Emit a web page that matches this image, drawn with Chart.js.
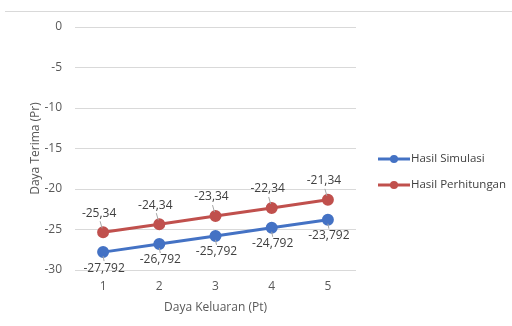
<!DOCTYPE html>
<html>
<head>
<meta charset="utf-8">
<script src="https://cdn.jsdelivr.net/npm/chart.js@4/dist/chart.umd.min.js"></script>
<style>
  html, body { margin: 0; padding: 0; background: #ffffff; }
  #wrap { width: 512px; height: 326px; position: relative; }
</style>
</head>
<body>
<div id="wrap"><canvas id="chart" width="512" height="326"></canvas></div>
<script>
// Output power levels (Pt) on the x axis
const categories = ['1', '2', '3', '4', '5'];
// Received power (Pr) from simulation
const hasilSimulasi = [-27.792, -26.792, -25.792, -24.792, -23.792];
// Received power (Pr) from calculation
const hasilPerhitungan = [-25.34, -24.34, -23.34, -22.34, -21.34];
// Y axis tick range
const yTicks = [0, -5, -10, -15, -20, -25, -30];

const BLUE = '#4472C4';
const RED = '#C0504D';
const FONT = "'Open Sans', 'DejaVu Sans', sans-serif";
const TEXT = '#595959';

const fmt = v => String(v).replace('.', ',');

// Value labels with short leader lines (above for red, below for blue)
const valueLabels = {
  id: 'valueLabels',
  afterDatasetsDraw(chart) {
    const ctx = chart.ctx;
    ctx.save();
    ctx.font = '12px ' + FONT;
    ctx.fillStyle = '#404040';
    ctx.textAlign = 'center';
    ctx.textBaseline = 'middle';
    chart.data.datasets.forEach((ds, di) => {
      const meta = chart.getDatasetMeta(di);
      const above = ds.labelSide === 'above';
      meta.data.forEach((pt, i) => {
        const lx = pt.x + (above ? -4 : 1);
        const ly = pt.y + (above ? -19 : 16);
        ctx.strokeStyle = '#a6a6a6';
        ctx.lineWidth = 1;
        ctx.beginPath();
        if (above) {
          ctx.moveTo(lx + 1, ly + 8);
          ctx.lineTo(pt.x - 1, pt.y - 4);
        } else {
          ctx.moveTo(pt.x, pt.y + 4);
          ctx.lineTo(lx, ly - 7);
        }
        ctx.stroke();
        ctx.fillText(fmt(ds.data[i]), lx, ly);
      });
    });
    ctx.restore();
  }
};

// Legend on the right and thin top rule
const sideLegend = {
  id: 'sideLegend',
  afterDraw(chart) {
    const ctx = chart.ctx;
    const x0 = chart.chartArea.right + 22;
    ctx.save();
    ctx.strokeStyle = '#d9d9d9';
    ctx.lineWidth = 1;
    ctx.beginPath();
    ctx.moveTo(5, 11.5);
    ctx.lineTo(512, 11.5);
    ctx.stroke();
    ctx.font = '11.5px ' + FONT;
    ctx.textBaseline = 'middle';
    ctx.textAlign = 'left';
    chart.data.datasets.forEach((ds, i) => {
      const y = 159 + i * 26;
      ctx.strokeStyle = ds.borderColor;
      ctx.lineWidth = 3;
      ctx.beginPath();
      ctx.moveTo(x0, y);
      ctx.lineTo(x0 + 32, y);
      ctx.stroke();
      ctx.fillStyle = ds.borderColor;
      ctx.beginPath();
      ctx.arc(x0 + 16, y, 4, 0, Math.PI * 2);
      ctx.fill();
      ctx.fillStyle = '#404040';
      ctx.fillText(ds.label, x0 + 33, y);
    });
    ctx.restore();
  }
};

new Chart(document.getElementById('chart'), {
  type: 'line',
  data: {
    labels: categories,
    datasets: [
      {
        label: 'Hasil Simulasi',
        data: hasilSimulasi,
        borderColor: BLUE,
        backgroundColor: BLUE,
        borderWidth: 3,
        pointRadius: 4.5,
        pointHoverRadius: 4.5,
        labelSide: 'below'
      },
      {
        label: 'Hasil Perhitungan',
        data: hasilPerhitungan,
        borderColor: RED,
        backgroundColor: RED,
        borderWidth: 3,
        pointRadius: 4.5,
        pointHoverRadius: 4.5,
        labelSide: 'above'
      }
    ]
  },
  options: {
    responsive: false,
    animation: false,
    layout: { padding: { left: 28, right: 156, top: 27, bottom: 11 } },
    plugins: {
      legend: { display: false },
      tooltip: { enabled: false }
    },
    scales: {
      x: {
        offset: true,
        grid: { display: false, drawTicks: false },
        border: { display: false },
        ticks: { color: TEXT, font: { family: FONT, size: 12 }, padding: 9 },
        title: {
          display: true,
          text: 'Daya Keluaran (Pt)',
          color: TEXT,
          font: { family: FONT, size: 12 },
          padding: { top: 4, bottom: 0 }
        },
        afterFit(s) { s.height = 45; }
      },
      y: {
        min: -30,
        max: 0,
        afterBuildTicks(s) { s.ticks = yTicks.map(v => ({ value: v })); },
        grid: { color: '#d9d9d9', drawTicks: false },
        border: { display: false },
        ticks: { color: TEXT, font: { family: FONT, size: 12 }, padding: 13 },
        title: {
          display: true,
          text: 'Daya Terima (Pr)',
          color: TEXT,
          font: { family: FONT, size: 12 },
          padding: 0
        },
        afterFit(s) { s.width = 47; }
      }
    }
  },
  plugins: [valueLabels, sideLegend]
});
</script>
</body>
</html>
